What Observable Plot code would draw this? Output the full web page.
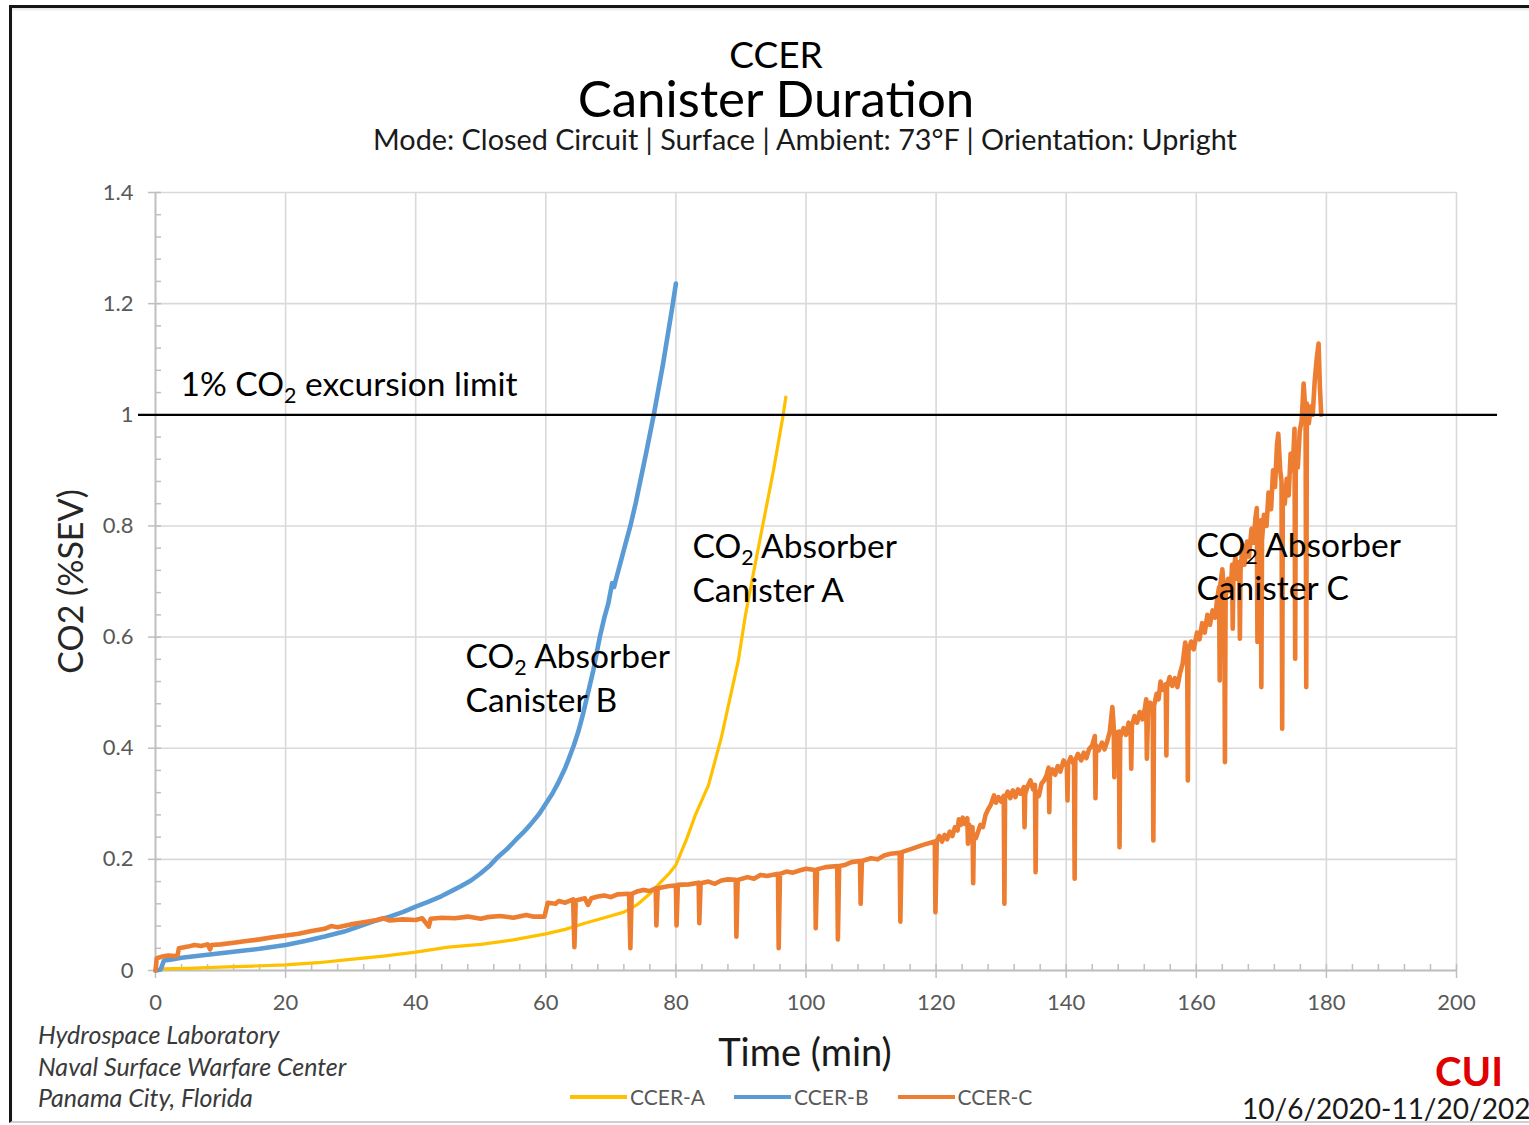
<!DOCTYPE html>
<html>
<head>
<meta charset="utf-8">
<script src="https://cdn.jsdelivr.net/npm/d3@7"></script>
<script src="https://cdn.jsdelivr.net/npm/@observablehq/plot@0.6"></script>
<style>
html,body{margin:0;padding:0;background:#fff;}
body{width:1529px;height:1125px;position:relative;overflow:hidden;font-family:Lato,"Open Sans",sans-serif;}
.frame{position:absolute;left:9px;top:5px;width:1600px;height:1118px;border-left:3px solid #151515;border-top:3px solid #151515;border-bottom:2px solid #d0d0d0;box-sizing:border-box;box-shadow:inset 0 2px 2px #e6e6e6;}
.abs{position:absolute;white-space:nowrap;line-height:1;}
.center{text-align:center;width:1000px;}
#chart{position:absolute;left:0;top:0;}
.legend{position:absolute;left:570px;top:1086px;display:flex;gap:29px;font-size:21px;color:#595959;line-height:1;}
.legend .item{display:flex;align-items:center;gap:3px;}
.legend .sw{width:57px;height:4px;}
</style>
</head>
<body>
<div class="frame"></div>
<div id="chart"></div>
<div class="abs center" style="left:276px;top:35px;font-size:37px;color:#000;">CCER</div>
<div class="abs center" style="left:276px;top:72px;font-size:51px;color:#000;">Canister Duration</div>
<div class="abs center" style="left:305px;top:125px;font-size:28.8px;color:#1a1a1a;">Mode: Closed Circuit | Surface | Ambient: 73°F | Orientation: Upright</div>
<div class="abs center" style="left:305px;top:1032px;font-size:38px;color:#1a1a1a;">Time (min)</div>
<div class="abs" style="left:38px;top:1022px;font-size:25px;font-style:italic;color:#3a3a3a;">Hydrospace Laboratory</div>
<div class="abs" style="left:38px;top:1054px;font-size:25px;font-style:italic;color:#3a3a3a;">Naval Surface Warfare Center</div>
<div class="abs" style="left:38px;top:1085px;font-size:25px;font-style:italic;color:#3a3a3a;">Panama City, Florida</div>
<div class="abs" style="left:1369px;width:200px;text-align:center;top:1051px;font-size:40px;font-weight:bold;color:#e00000;">CUI</div>
<div class="abs" style="left:1242px;top:1094px;font-size:28px;color:#1a1a1a;">10/6/2020-11/20/2020</div>
<div class="legend" id="legend"></div>
<script>
// ---------- data ----------
const seriesNames = ["CCER-A", "CCER-B", "CCER-C"];
const seriesColors = ["#FFC000", "#5B9BD5", "#ED7D31"];

const timeA = [0.5, 1, 5, 10, 15, 20, 25, 30, 35, 40, 45, 50, 55, 60, 63, 66, 69, 72, 74, 76, 77.6, 79, 80, 81.6, 83, 85, 87, 89.6, 90.7, 92, 93.3, 95, 96.5, 96.9];
const valueA = [0, 0.003, 0.004, 0.006, 0.008, 0.01, 0.014, 0.02, 0.026, 0.033, 0.042, 0.047, 0.055, 0.066, 0.074, 0.085, 0.095, 0.105, 0.118, 0.138, 0.158, 0.175, 0.19, 0.235, 0.28, 0.333, 0.42, 0.558, 0.64, 0.72, 0.798, 0.9, 1.0, 1.032];

const timeB = [0, 0.8, 1.3, 2.5, 4, 7, 10, 13, 16, 20, 23, 26, 29, 31, 33.4, 36, 38, 40, 42, 44, 46, 47, 48.5, 50, 51.5, 52.6, 54, 55.3, 56.5, 57.6, 59, 60, 61, 62, 63, 63.5, 64.3, 65, 65.8, 66.5, 67.3, 68.3, 69, 69.6, 70.2, 70.5, 70.7, 71.5, 72.3, 73, 73.8, 74.6, 75.4, 76, 76.6, 77.3, 78, 78.7, 79.4, 80];
const valueB = [0, 0.002, 0.018, 0.02, 0.023, 0.027, 0.031, 0.035, 0.039, 0.046, 0.053, 0.061, 0.07, 0.078, 0.088, 0.097, 0.105, 0.115, 0.124, 0.134, 0.146, 0.152, 0.162, 0.175, 0.19, 0.204, 0.218, 0.234, 0.248, 0.262, 0.282, 0.3, 0.318, 0.34, 0.365, 0.38, 0.405, 0.43, 0.465, 0.5, 0.54, 0.6, 0.635, 0.66, 0.697, 0.69, 0.7, 0.735, 0.77, 0.8, 0.84, 0.885, 0.93, 0.965, 1.0, 1.045, 1.09, 1.14, 1.19, 1.236];

const timeC = [0, 0.2, 1, 2, 3, 3.4, 3.6, 5, 6, 7, 8, 8.4, 8.6, 10, 12, 14, 16, 18, 20, 22, 24, 26, 27, 28, 30, 32, 34, 35, 36, 38, 40, 41, 42, 42.3, 44, 46, 48, 50, 51, 53, 55, 57, 58, 59.8, 60.3, 61.5, 62, 63, 64.2, 64.4, 64.6, 66, 66.5, 67, 68, 69, 70, 71, 72.8, 73, 73.2, 74, 75, 76, 76.9, 77, 77.2, 78, 79, 80, 80.1, 80.3, 82, 83.5, 83.6, 83.8, 85, 86, 87, 88, 89.2, 89.3, 89.5, 91, 92, 93, 94, 95.7, 95.8, 96, 97, 98, 99, 100, 101.4, 101.5, 101.7, 103, 104.8, 104.9, 105.1, 106, 107, 108.3, 108.4, 108.6, 110, 111, 112, 113, 114.4, 114.5, 114.7, 116, 117, 118, 119.8, 119.9,
  120.1, 120.5, 120.9, 121.3, 121.7, 122.1, 122.5, 122.9, 123.3, 123.5, 123.8, 124.1, 124.4, 124.8, 124.9, 125.1, 125.4, 125.6, 125.7, 125.8, 126.1, 126.4, 126.8, 127.2, 127.6, 128, 128.4, 128.9, 129.2, 129.6, 130, 130.4, 130.5, 130.6, 131, 131.4, 131.8, 132.2, 132.6, 133, 133.5, 133.6, 133.7, 134.1, 134.5, 134.9, 135.2, 135.3, 135.4, 135.8, 136.2, 136.6, 137, 137.3, 137.4, 137.5, 137.9, 138.3, 138.7, 139.1, 139.6, 140.1, 140.2, 140.3, 140.7, 141.2, 141.3, 141.4, 141.8, 142.3, 142.7, 143.1, 143.5, 144, 144.4, 144.5, 144.6, 145, 145.5, 145.9, 146.3, 146.7, 147.1, 147.3, 147.4, 147.5, 147.8, 148.1, 148.2, 148.3, 148.8, 149.2, 149.6, 149.9, 150, 150.1, 150.5, 150.9, 151.3, 151.7, 152.1, 152.3, 152.4, 152.6, 152.9, 153.3, 153.4, 153.5, 153.9, 154.2, 154.5, 154.9, 155.3, 155.4, 155.5, 155.9, 156.3, 156.7, 157.1, 157.5, 157.9, 158.3, 158.6, 158.7, 158.8, 159.2, 159.6, 160.1, 160.5, 160.9, 161.3, 161.7, 162.1, 162.5, 162.9, 163.2, 163.5, 163.6, 163.7, 164, 164.3, 164.4, 164.5, 164.9, 165.3, 165.5, 165.6, 165.7, 166, 166.3, 166.6, 166.7, 166.8, 167.1, 167.4, 167.8, 168.1, 168.5, 168.8, 169.1, 169.3, 169.4, 169.5, 169.9, 170, 170.1, 170.4, 170.8, 171.1, 171.5, 171.8, 172.1, 172.4, 172.6, 172.9, 173.1, 173.2, 173.3, 173.6, 173.9, 174.2, 174.5, 174.8, 175.1, 175.2, 175.3, 175.6, 175.9, 176.2, 176.5, 176.8, 176.9, 177, 177.3, 177.6, 177.9, 178.2, 178.5, 178.8, 179, 179.2];
const valueC = [0, 0.022, 0.025, 0.027, 0.026, 0.028, 0.04, 0.043, 0.046, 0.044, 0.047, 0.038, 0.046, 0.047, 0.05, 0.053, 0.056, 0.06, 0.063, 0.066, 0.071, 0.075, 0.08, 0.078, 0.083, 0.087, 0.091, 0.094, 0.09, 0.092, 0.091, 0.094, 0.079, 0.093, 0.095, 0.094, 0.097, 0.093, 0.096, 0.098, 0.095, 0.1, 0.097, 0.097, 0.122, 0.12, 0.125, 0.122, 0.128, 0.042, 0.126, 0.13, 0.118, 0.13, 0.133, 0.135, 0.132, 0.137, 0.138, 0.04, 0.138, 0.142, 0.145, 0.143, 0.148, 0.081, 0.148, 0.15, 0.152, 0.153, 0.081, 0.154, 0.155, 0.158, 0.085, 0.157, 0.16, 0.156, 0.162, 0.164, 0.163, 0.061, 0.163, 0.168, 0.165, 0.172, 0.17, 0.174, 0.04, 0.174, 0.178, 0.176, 0.18, 0.183, 0.181, 0.076, 0.182, 0.186, 0.188, 0.056, 0.188, 0.19, 0.195, 0.197, 0.12, 0.197, 0.202, 0.2, 0.207, 0.21, 0.212, 0.088, 0.213, 0.218, 0.222, 0.226, 0.232, 0.105,
  0.233, 0.242, 0.232, 0.244, 0.236, 0.25, 0.242, 0.258, 0.252, 0.272, 0.262, 0.275, 0.264, 0.274, 0.228, 0.262, 0.25, 0.258, 0.157, 0.245, 0.238, 0.248, 0.262, 0.258, 0.28, 0.29, 0.298, 0.315, 0.302, 0.312, 0.304, 0.314, 0.12, 0.31, 0.322, 0.31, 0.324, 0.312, 0.326, 0.318, 0.33, 0.258, 0.318, 0.332, 0.342, 0.326, 0.334, 0.177, 0.322, 0.314, 0.336, 0.342, 0.352, 0.365, 0.285, 0.35, 0.362, 0.352, 0.368, 0.358, 0.378, 0.368, 0.306, 0.372, 0.384, 0.37, 0.165, 0.378, 0.39, 0.378, 0.392, 0.382, 0.398, 0.405, 0.422, 0.31, 0.405, 0.396, 0.41, 0.398, 0.412, 0.43, 0.474, 0.44, 0.348, 0.43, 0.418, 0.43, 0.222, 0.42, 0.436, 0.424, 0.446, 0.436, 0.363, 0.44, 0.458, 0.446, 0.465, 0.452, 0.472, 0.488, 0.381, 0.47, 0.482, 0.472, 0.234, 0.476, 0.498, 0.488, 0.52, 0.505, 0.515, 0.387, 0.51, 0.528, 0.512, 0.526, 0.51, 0.535, 0.552, 0.59, 0.565, 0.342, 0.575, 0.592, 0.578, 0.608, 0.596, 0.625, 0.608, 0.64, 0.622, 0.648, 0.635, 0.668, 0.69, 0.522, 0.695, 0.722, 0.68, 0.375, 0.672, 0.705, 0.682, 0.73, 0.615, 0.71, 0.745, 0.705, 0.735, 0.597, 0.72, 0.765, 0.73, 0.772, 0.745, 0.795, 0.77, 0.815, 0.832, 0.591, 0.79, 0.81, 0.51, 0.775, 0.82, 0.8, 0.86, 0.83, 0.9, 0.87, 0.945, 0.966, 0.9, 0.88, 0.435, 0.862, 0.84, 0.885, 0.855, 0.93, 0.9, 0.975, 0.561, 0.93, 0.905, 0.97, 0.99, 1.056, 1.0, 0.51, 1.02, 0.985, 1.015, 1.0, 1.06, 1.1, 1.128, 1.05, 1.0];

const limitValue = 1;
const xTickValues = [0, 20, 40, 60, 80, 100, 120, 140, 160, 180, 200];
const xTickLabels = ["0", "20", "40", "60", "80", "100", "120", "140", "160", "180", "200"];
const yTickValues = [0, 0.2, 0.4, 0.6, 0.8, 1, 1.2, 1.4];
const yTickLabels = ["0", "0.2", "0.4", "0.6", "0.8", "1", "1.2", "1.4"];
const xMinorTicks = d3.range(0, 201, 4);
const yMinorTicks = d3.range(0, 1.4001, 0.04).map(d => +d.toFixed(2));

const annotations = [
  {t: 3.84, v: 1.09, text: "1% CO2 excursion limit"},
  {t: 47.66, v: 0.601, text: "CO2 Absorber\nCanister B"},
  {t: 82.55, v: 0.799, text: "CO2 Absorber\nCanister A"},
  {t: 160.03, v: 0.801, text: "CO2 Absorber\nCanister C"}
];

// ---------- build ----------
const toRows = (ts, vs) => ts.map((t, i) => ({t, v: vs[i]}));
const rowsA = toRows(timeA, valueA);
const rowsB = toRows(timeB, valueB);
const rowsC = toRows(timeC, valueC);

const gridStyle = {stroke: "#d9d9d9", strokeOpacity: 1, strokeWidth: 1.6};
const axisGray = "#bfbfbf";
const annotFont = 33.5;

const chart = Plot.plot({
  width: 1529,
  height: 1125,
  marginLeft: 155,
  marginRight: 73,
  marginTop: 192,
  marginBottom: 155,
  style: {fontFamily: "Lato, 'Open Sans', sans-serif", background: "transparent", overflow: "visible"},
  x: {domain: [0, 200], label: null},
  y: {domain: [0, 1.4], label: null},
  marks: [
    Plot.gridX(xTickValues, gridStyle),
    Plot.gridY(yTickValues, gridStyle),
    Plot.axisX(xMinorTicks, {tickSize: -6, tickFormat: () => "", stroke: axisGray, strokeWidth: 1.5, label: null}),
    Plot.axisY(yMinorTicks, {tickSize: -6, tickFormat: () => "", stroke: axisGray, strokeWidth: 1.5, label: null}),
    Plot.axisX(xTickValues, {tickSize: 8, tickPadding: 16, fontSize: 22, fill: "#595959", stroke: axisGray, strokeWidth: 1.5, label: null,
      tickFormat: d => xTickLabels[xTickValues.indexOf(d)]}),
    Plot.axisY(yTickValues, {tickSize: 7, tickPadding: 15, fontSize: 22, fill: "#595959", stroke: axisGray, strokeWidth: 1.5, label: null,
      tickFormat: d => yTickLabels[yTickValues.indexOf(d)]}),
    Plot.ruleX([0], {stroke: axisGray, strokeWidth: 1.8}),
    Plot.ruleY([0], {stroke: axisGray, strokeWidth: 1.8}),
    Plot.line(rowsA, {x: "t", y: "v", stroke: seriesColors[0], strokeWidth: 3.2}),
    Plot.line(rowsB, {x: "t", y: "v", stroke: seriesColors[1], strokeWidth: 4.6}),
    Plot.line(rowsC, {x: "t", y: "v", stroke: seriesColors[2], strokeWidth: 4.6, strokeLinejoin: "round"}),
    Plot.ruleY([limitValue], {stroke: "#000", strokeWidth: 2.2, insetLeft: -17, insetRight: -41}),
    Plot.text(annotations, {x: "t", y: "v", text: "text", textAnchor: "start", lineAnchor: "top", fontSize: annotFont, lineHeight: 1.31, fill: "#000"}),
    Plot.text(["CO2 (%SEV)"], {frameAnchor: "left", dx: -83, rotate: -90, textAnchor: "middle", fontSize: 34, fill: "#262626"})
  ]
});

// subscript the "2" in CO2 for annotations
const NS = "http://www.w3.org/2000/svg";
chart.querySelectorAll("text, tspan").forEach(n => {
  if (n.children.length) return;
  const s = n.textContent;
  const idx = s.indexOf("CO2");
  if (idx < 0 || s.includes("%SEV")) return;
  const shift = annotFont * 0.22;
  n.textContent = s.slice(0, idx + 2);
  const sub = document.createElementNS(NS, "tspan");
  sub.setAttribute("font-size", (annotFont * 0.64) + "px");
  sub.setAttribute("dy", shift + "px");
  sub.textContent = "2";
  const rest = document.createElementNS(NS, "tspan");
  rest.setAttribute("dy", (-shift) + "px");
  rest.textContent = s.slice(idx + 3);
  n.append(sub, rest);
});

document.getElementById("chart").append(chart);

// legend
const legend = document.getElementById("legend");
seriesNames.forEach((name, i) => {
  const item = document.createElement("div");
  item.className = "item";
  const sw = document.createElement("div");
  sw.className = "sw";
  sw.style.background = seriesColors[i];
  const label = document.createElement("span");
  label.textContent = name;
  item.append(sw, label);
  legend.append(item);
});
</script>
</body>
</html>
